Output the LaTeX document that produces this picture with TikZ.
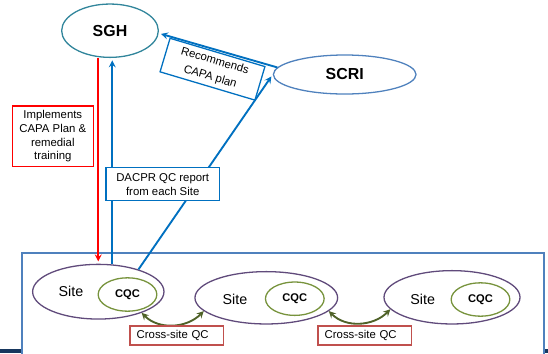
\documentclass[tikz,border=0pt]{standalone}
\usepackage{fontspec}
\setmainfont{Liberation Sans}
\usepackage{tikz}
\usetikzlibrary{shapes.geometric}

\definecolor{sghteal}{RGB}{49,133,155}
\definecolor{scriblue}{RGB}{79,129,189}
\definecolor{arrowblue}{RGB}{0,112,192}
\definecolor{sitepurple}{RGB}{96,74,123}
\definecolor{cqcgreen}{RGB}{119,147,60}
\definecolor{qcolive}{RGB}{79,98,40}
\definecolor{crossred}{RGB}{192,80,77}
\definecolor{barnavy}{RGB}{23,55,94}

\begin{document}
\begin{tikzpicture}[%
            x=0.03cm,
            y=-0.03cm,
            ->,
            shorten >=2pt,
            >=stealth,
            line width=1.6pt,
            centre/.style={%
            	ellipse,
            	inner sep=0pt,
            	line width=1.1pt,
            	font=\fontsize{13.6}{16}\selectfont\bfseries,
            	draw
            },
            site/.style={%
            	ellipse,
            	inner sep=0pt,
            	line width=1.1pt,
            	draw=sitepurple
            },
            sitelabel/.style={%
            	inner sep=0pt,
            	font=\fontsize{12.2}{14}\selectfont
            },
            cqc/.style={%
            	ellipse,
            	inner sep=0pt,
            	minimum width=1.76cm,
            	minimum height=1.0cm,
            	line width=1.1pt,
            	font=\fontsize{9.5}{11}\selectfont\bfseries,
            	draw=cqcgreen
            },
            note/.style={%
            	rectangle,
            	align=center,
            	inner sep=0pt,
            	line width=1.1pt,
            	fill=white,
            	font=\fontsize{9.7}{11.8}\selectfont,
            	draw
            },
            crossbox/.style={%
            	note,
            	align=left,
            	text width=2.4cm,
            	inner xsep=0.2cm,
            	minimum height=0.57cm,
            	draw=crossred
            }
            ]
            \useasboundingbox (0,0) rectangle (548,353);
            \fill[barnavy] (0,349) rectangle (548,353);
            \draw[scriblue, fill=white, line width=1.1pt] (22,253) rectangle (544,358);

            \node[centre, draw=sghteal, minimum width=2.9cm, minimum height=1.6cm] (sgh) at (110,30.7) {SGH};
            \node[centre, draw=scriblue, minimum width=4.28cm, minimum height=1.17cm] (scri) at (344.7,74.5) {SCRI};

            \node[site, minimum width=3.94cm, minimum height=1.64cm] (site1) at (98.3,291.7) {};
            \node[site, minimum width=4.28cm, minimum height=1.57cm] (site2) at (266.3,297.8) {};
            \node[site, minimum width=4.08cm, minimum height=1.6cm] (site3) at (452,297.3) {};
            \node[sitelabel] (label1) at (71,291.7) {Site};
            \node[sitelabel] (label2) at (235,299.3) {Site};
            \node[sitelabel] (label3) at (422.7,299.3) {Site};
            \node[cqc] (cqc1) at (127.5,294.5) {CQC};
            \node[cqc] (cqc2) at (294.8,298.7) {CQC};
            \node[cqc] (cqc3) at (480.5,299.5) {CQC};

            \path (sgh.south -| site1.north) edge[red]          (site1.north)
            (site1.63) edge[arrowblue]                          (site1.63 |- sgh.south)
            (site1.29) edge[arrowblue]                          (scri.west)
            (scri.174) edge[arrowblue]                          (sgh.-3)
            (site1.-26) edge[qcolive, <->, shorten >=0pt, out=-45, in=-135] (site2.192)
            (site2.-12) edge[qcolive, <->, shorten >=0pt, out=-45, in=-135] (site3.191);

            \node[note, draw=red, minimum width=2.43cm, minimum height=1.82cm] (implements) at (52.8,136.3) {Implements\\CAPA Plan \&\\remedial\\training};
            \node[note, draw=arrowblue, minimum width=3.4cm, minimum height=0.99cm] (report) at (162.7,184.2) {DACPR QC report\\from each Site};
            \node[note, draw=arrowblue, minimum width=2.97cm, minimum height=1.05cm, rotate=-16.6, font=\fontsize{9.7}{14}\selectfont] (recommends) at (212.5,69.2) {Recommends\\CAPA plan};
            \node[crossbox] (cross1) at (176.7,335.5) {Cross-site QC};
            \node[crossbox] (cross2) at (364.7,335.5) {Cross-site QC};
\end{tikzpicture}
\end{document}
